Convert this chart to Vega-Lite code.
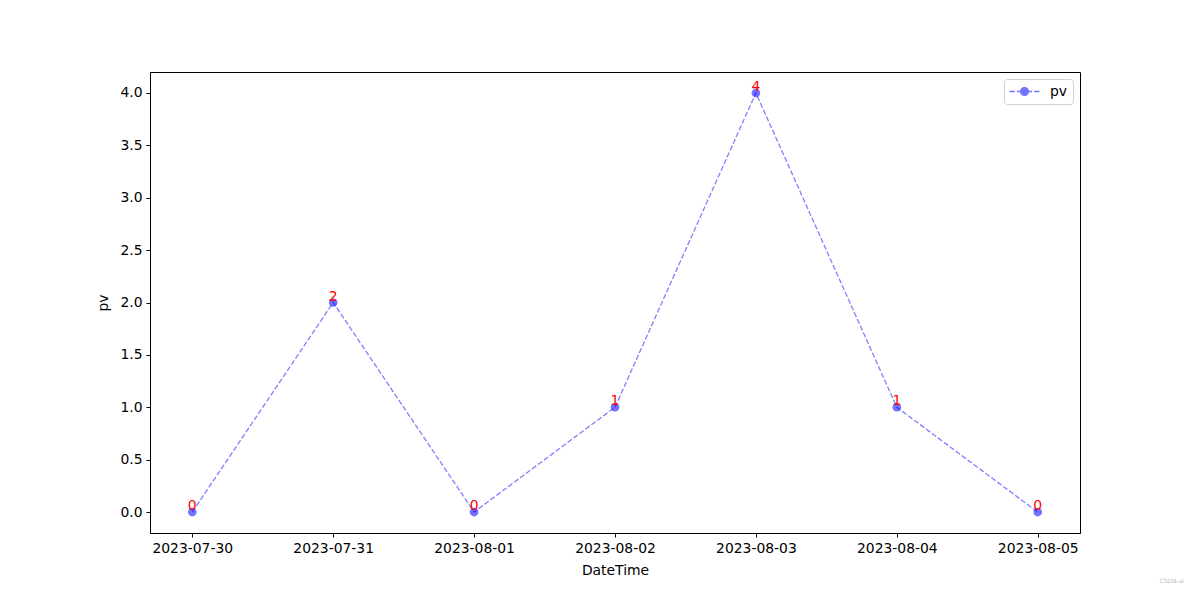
{
  "$schema": "https://vega.github.io/schema/vega-lite/v6.json",
  "width": 930,
  "height": 461,
  "autosize": {"type": "none"},
  "padding": {"left": 150, "top": 72, "right": 120, "bottom": 67},
  "background": "white",
  "config": {
    "font": "DejaVu Sans",
    "view": {"stroke": "black", "strokeWidth": 1},
    "axis": {
      "grid": false,
      "domainColor": "black",
      "tickColor": "black",
      "labelColor": "black",
      "titleColor": "black",
      "tickSize": 4,
      "labelFontSize": 13.9,
      "titleFontSize": 13.9,
      "titleFontWeight": "normal",
      "labelPadding": 4
    }
  },
  "title": {
    "text": "CSDN-ai",
    "orient": "bottom",
    "anchor": "end",
    "fontSize": 6,
    "fontWeight": "normal",
    "color": "#bbbbbb",
    "dx": 104,
    "offset": 0
  },
  "data": {
    "values": [
      {"DateTime": "2023-07-30", "pv": 0, "series": "pv"},
      {"DateTime": "2023-07-31", "pv": 2, "series": "pv"},
      {"DateTime": "2023-08-01", "pv": 0, "series": "pv"},
      {"DateTime": "2023-08-02", "pv": 1, "series": "pv"},
      {"DateTime": "2023-08-03", "pv": 4, "series": "pv"},
      {"DateTime": "2023-08-04", "pv": 1, "series": "pv"},
      {"DateTime": "2023-08-05", "pv": 0, "series": "pv"}
    ]
  },
  "encoding": {
    "x": {
      "field": "DateTime",
      "type": "ordinal",
      "scale": {"type": "point", "padding": 0.3},
      "axis": {"labelAngle": 0, "title": "DateTime", "titlePadding": 9}
    },
    "y": {
      "field": "pv",
      "type": "quantitative",
      "scale": {"domain": [-0.2, 4.2], "nice": false, "zero": false},
      "axis": {"format": ".1f", "values": [0, 0.5, 1, 1.5, 2, 2.5, 3, 3.5, 4], "title": "pv", "titlePadding": 9}
    }
  },
  "layer": [
    {
      "mark": {"type": "line", "color": "#0000ff", "strokeDash": [5.2, 2.2], "strokeWidth": 1.3, "opacity": 0.5}
    },
    {
      "mark": {"type": "point", "filled": true, "shape": "circle", "size": 75, "opacity": 0.55},
      "encoding": {
        "color": {
          "field": "series",
          "type": "nominal",
          "scale": {"range": ["#0000ff"]},
          "legend": {
            "title": null,
            "orient": "top-right",
            "offset": 7,
            "strokeColor": "#d0d0d0",
            "cornerRadius": 3,
            "padding": 5,
            "fillColor": "white",
            "labelFontSize": 13.9,
            "labelColor": "black",
            "symbolType": "M-2.3,0H-1.5M-1.16,0H-0.36M0.36,0H1.16M1.5,0H2.3M-0.6,0A0.6,0.6,0,1,0,0.6,0A0.6,0.6,0,1,0,-0.6,0Z",
            "symbolSize": 169,
            "symbolOffset": 8,
            "symbolStrokeWidth": 1.3,
            "symbolStrokeColor": "#0000ff",
            "symbolFillColor": "#0000ff",
            "symbolOpacity": 0.55,
            "labelOffset": 18
          }
        }
      }
    },
    {
      "mark": {"type": "text", "color": "red", "fontSize": 13.9, "baseline": "bottom", "align": "center", "dy": 1},
      "encoding": {"text": {"field": "pv", "type": "quantitative"}}
    }
  ]
}
